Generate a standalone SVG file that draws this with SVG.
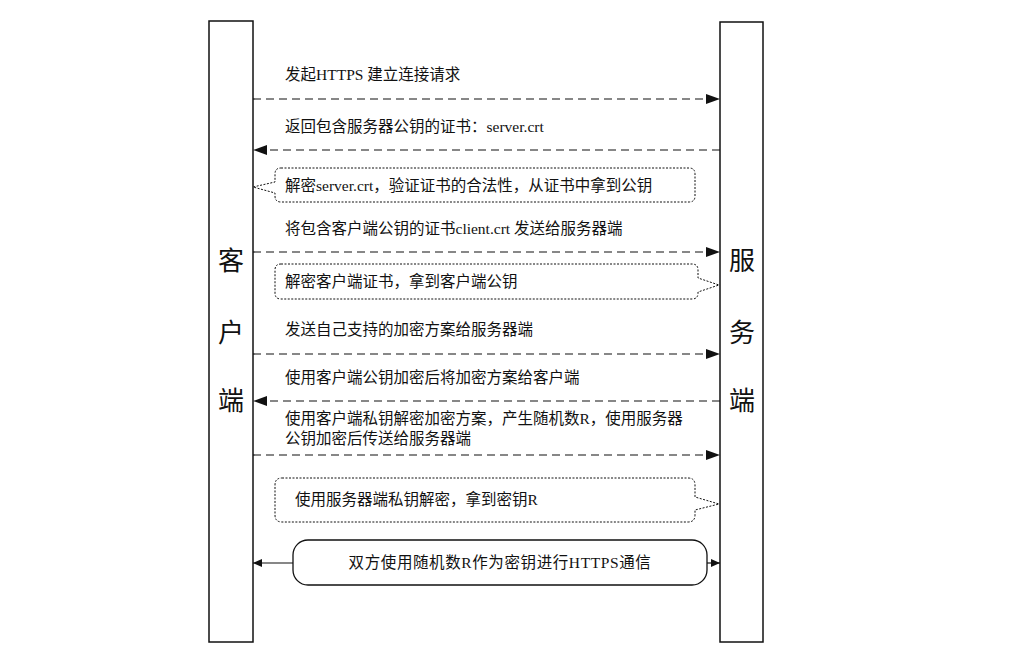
<svg xmlns="http://www.w3.org/2000/svg" width="1010" height="659" viewBox="0 0 1010 659">
<style>
  .bg { fill: #ffffff; }
  .life { fill: #ffffff; stroke: #111; stroke-width: 1.5; }
  .big { font-family: "Noto Sans CJK SC", sans-serif; font-size: 26px; fill: #111; text-anchor: middle; }
  .t { font-family: "Liberation Serif", "Noto Sans CJK SC", serif; font-size: 15.5px; fill: #111; }
  .msg { fill: none; stroke: #111; stroke-width: 1.2; stroke-dasharray: 8 5; }
  .solid { fill: none; stroke: #111; stroke-width: 1.2; }
  .note { fill: #ffffff; stroke: #111; stroke-width: 1; stroke-dasharray: 2 1.5; }
  .box { fill: #ffffff; stroke: #111; stroke-width: 1.3; }
</style>
<defs>
  <marker id="tri" markerUnits="userSpaceOnUse" markerWidth="15" markerHeight="11" refX="14" refY="5" orient="auto">
    <path d="M0,0 L14,5 L0,10 z" fill="#111"/>
  </marker>
  <marker id="tri2" markerUnits="userSpaceOnUse" markerWidth="10" markerHeight="9" refX="9" refY="4" orient="auto">
    <path d="M0,0 L9,4 L0,8 z" fill="#111"/>
  </marker>
</defs>
<rect class="bg" x="0" y="0" width="1010" height="659"/>

<g id="client">
  <rect class="life" x="209" y="21" width="44" height="621"/>
  <text class="big" x="231" y="270">客</text>
  <text class="big" x="231" y="342">户</text>
  <text class="big" x="231" y="410">端</text>
</g>

<g id="server">
  <rect class="life" x="720" y="22" width="43" height="620"/>
  <text class="big" x="742" y="270">服</text>
  <text class="big" x="742" y="342">务</text>
  <text class="big" x="742" y="410">端</text>
</g>

<g id="note-client-verify">
  <path class="note" d="M281,168 L689,168 Q695,168 695,174 L695,196 Q695,202 689,202 L281,202 Q275,202 275,196 L275,193 L253,187 L275,182 L275,174 Q275,168 281,168 Z"/>
  <text class="t" x="285" y="191">解密server.crt，验证证书的合法性，从证书中拿到公钥</text>
</g>

<g id="note-server-cert">
  <path class="note" d="M281,264 L692,264 Q698,264 698,270 L698,278 L719,285 L698,292 L698,293 Q698,299 692,299 L281,299 Q275,299 275,293 L275,270 Q275,264 281,264 Z"/>
  <text class="t" x="285" y="287">解密客户端证书，拿到客户端公钥</text>
</g>

<g id="note-server-key">
  <path class="note" d="M282,478 L688,478 Q695,478 695,485 L695,497 L719,504 L695,510 L695,515 Q695,522 688,522 L282,522 Q275,522 275,515 L275,485 Q275,478 282,478 Z"/>
  <text class="t" x="295" y="505">使用服务器端私钥解密，拿到密钥R</text>
</g>

<g id="session">
  <rect class="box" x="293" y="540" width="414" height="45" rx="15" ry="15"/>
  <text class="t" x="500" y="568" text-anchor="middle" letter-spacing="0.6">双方使用随机数R作为密钥进行HTTPS通信</text>
</g>

<g id="connectors">
  <line class="msg" x1="253" y1="99" x2="720" y2="99" marker-end="url(#tri)"/>
  <line class="msg" x1="720" y1="150" x2="253" y2="150" marker-end="url(#tri)"/>
  <line class="msg" x1="253" y1="252" x2="720" y2="252" marker-end="url(#tri)"/>
  <line class="msg" x1="253" y1="354" x2="720" y2="354" marker-end="url(#tri)"/>
  <line class="msg" x1="720" y1="401" x2="253" y2="401" marker-end="url(#tri)"/>
  <line class="msg" x1="253" y1="455" x2="720" y2="455" marker-end="url(#tri)"/>
  <line class="solid" x1="293" y1="563" x2="253" y2="563" marker-end="url(#tri2)"/>
  <line class="solid" x1="707" y1="563" x2="720" y2="563" marker-end="url(#tri2)"/>
</g>

<g id="labels">
  <text class="t" x="285" y="80">发起HTTPS 建立连接请求</text>
  <text class="t" x="285" y="132">返回包含服务器公钥的证书：server.crt</text>
  <text class="t" x="285" y="234">将包含客户端公钥的证书client.crt 发送给服务器端</text>
  <text class="t" x="285" y="335">发送自己支持的加密方案给服务器端</text>
  <text class="t" x="285" y="383">使用客户端公钥加密后将加密方案给客户端</text>
  <text class="t" x="285" y="424">使用客户端私钥解密加密方案，产生随机数R，使用服务器</text>
  <text class="t" x="285" y="444">公钥加密后传送给服务器端</text>
</g>
</svg>
